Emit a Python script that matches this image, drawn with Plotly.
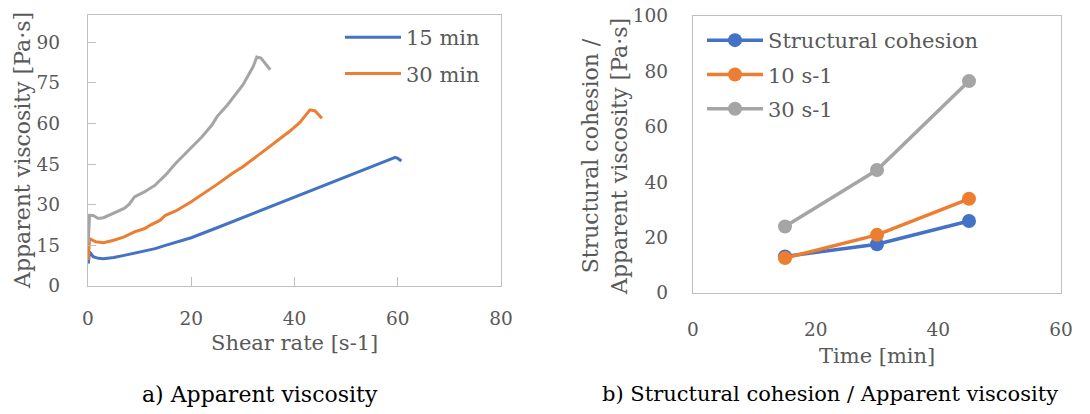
import plotly.graph_objects as go

# ---- Data: a) Apparent viscosity vs shear rate ----
x_15min = [0.05, 0.3, 1.0, 2, 3, 5, 7, 10, 13, 15, 18, 20, 25, 30, 35, 40, 45, 50, 55, 59.5, 60.0, 60.7]
y_15min = [8.3, 12.6, 10.8, 10.2, 10.1, 10.5, 11.3, 12.6, 13.8, 15.0, 16.6, 17.8, 21.5, 25.3, 29.0, 32.9, 36.4, 40.3, 44.0, 47.5, 47.1, 46.1]

x_30min = [0.05, 0.3, 1.5, 3, 5, 7, 9, 11, 12, 14, 15, 17, 20, 23, 25, 28, 30, 33, 36, 39, 41, 43, 44, 45.3]
y_30min = [9.5, 17.5, 16.3, 16.0, 16.9, 18.1, 20.0, 21.2, 22.4, 24.3, 26.1, 27.7, 31.1, 34.8, 37.5, 41.6, 44.0, 48.3, 52.7, 57.0, 60.3, 65.0, 64.6, 61.9]

x_45min = [0.05, 0.3, 1, 2, 3, 5, 7, 8, 9, 11, 13, 14, 15, 17, 19, 21, 22, 24, 25, 27, 28, 30, 32, 32.7, 33.5, 35.3]
y_45min = [15.8, 26.1, 26.0, 24.9, 25.2, 26.8, 28.6, 30.2, 32.9, 34.8, 37.2, 39.1, 40.9, 45.3, 49.0, 52.7, 54.9, 59.4, 62.5, 66.8, 69.3, 74.2, 81.0, 84.5, 84.1, 79.8]

left_yticks = [0, 15, 30, 45, 60, 75, 90]

# ---- Data: b) Structural cohesion / apparent viscosity vs time ----
time_min = [15, 30, 45]
structural_cohesion = [13.2, 17.6, 26.0]
visc_10 = [12.6, 21.0, 34.0]
visc_30 = [24.0, 44.4, 76.5]

BLUE = "#4472C4"
ORANGE = "#ED7D31"
GRAY = "#A5A5A5"
TXT = "#595959"
AX = "#BFBFBF"
FONT = "DejaVu Serif"

fig = go.Figure()

fig.add_trace(go.Scatter(x=x_15min, y=y_15min, mode="lines", name="15 min",
                         line=dict(color=BLUE, width=3), xaxis="x", yaxis="y",
                         legend="legend", legendgroup="a1"))
fig.add_trace(go.Scatter(x=x_30min, y=y_30min, mode="lines", name="30 min",
                         line=dict(color=ORANGE, width=3), xaxis="x", yaxis="y",
                         legend="legend", legendgroup="a2"))
fig.add_trace(go.Scatter(x=x_45min, y=y_45min, mode="lines", name="45 min",
                         line=dict(color=GRAY, width=3), xaxis="x", yaxis="y",
                         showlegend=False))

fig.add_trace(go.Scatter(x=time_min, y=structural_cohesion, mode="lines+markers",
                         name="Structural cohesion", line=dict(color=BLUE, width=3.5),
                         marker=dict(size=14, color=BLUE), xaxis="x2", yaxis="y2",
                         legend="legend2", legendgroup="b1"))
fig.add_trace(go.Scatter(x=time_min, y=visc_10, mode="lines+markers",
                         name="10 s-1", line=dict(color=ORANGE, width=3.5),
                         marker=dict(size=14, color=ORANGE), xaxis="x2", yaxis="y2",
                         legend="legend2", legendgroup="b2"))
fig.add_trace(go.Scatter(x=time_min, y=visc_30, mode="lines+markers",
                         name="30 s-1", line=dict(color=GRAY, width=3.5),
                         marker=dict(size=14, color=GRAY), xaxis="x2", yaxis="y2",
                         legend="legend2", legendgroup="b3"))

W, H = 1090, 414
def px(x):
    return x / W
def py(y):
    return 1 - y / H

axis_common = dict(showline=True, mirror=True, linecolor=AX, linewidth=1.3,
                   showgrid=False, zeroline=False,
                   tickfont=dict(family=FONT, size=18.5, color=TXT))

fig.update_layout(
    width=W, height=H,
    margin=dict(l=0, r=0, t=0, b=0, autoexpand=False),
    paper_bgcolor="white", plot_bgcolor="white",
    font=dict(family=FONT, color=TXT),
    xaxis=dict(domain=[px(88), px(501)], range=[0, 80], dtick=20,
               ticks="inside", ticklen=9, tickcolor=AX, ticklabelstandoff=16,
               anchor="y", **axis_common),
    yaxis=dict(domain=[py(286), py(15)], range=[0, 100], tickvals=left_yticks,
               ticks="inside", ticklen=8, tickcolor=AX, ticklabelstandoff=23,
               anchor="x", **axis_common),
    xaxis2=dict(domain=[px(693), px(1061)], range=[0, 60], dtick=20,
                ticks="", ticklabelstandoff=20, anchor="y2", **axis_common),
    yaxis2=dict(domain=[py(293), py(16)], range=[0, 100], dtick=20,
                ticks="", ticklabelstandoff=20, anchor="x2", **axis_common),
    legend=dict(x=px(340), y=py(17), xanchor="left", yanchor="top",
                bgcolor="rgba(0,0,0,0)", itemwidth=56, traceorder="grouped",
                tracegroupgap=6, font=dict(family=FONT, size=21, color=TXT)),
    legend2=dict(x=px(702), y=py(20), xanchor="left", yanchor="top",
                 bgcolor="rgba(0,0,0,0)", itemwidth=56, traceorder="grouped",
                 tracegroupgap=4, font=dict(family=FONT, size=21, color=TXT)),
    showlegend=True,
)

ann_font = dict(family=FONT, size=22, color=TXT)
def ann(text, x, y, font, angle=0):
    fig.add_annotation(text=text, x=px(x), y=py(y), xref="paper", yref="paper",
                       xanchor="center", yanchor="middle", textangle=angle,
                       showarrow=False, font=font)

ann("Apparent viscosity [Pa·s]", 22, 151, ann_font, -90)
ann("Structural cohesion /<br>Apparent viscosity [Pa·s]", 605, 157, ann_font, -90)
ann("Shear rate [s-1]", 294.5, 343, dict(family=FONT, size=21, color=TXT))
ann("Time [min]", 877, 356, dict(family=FONT, size=21, color=TXT))
ann("a) Apparent viscosity", 260, 394, dict(family=FONT, size=22, color="black"))
ann("b) Structural cohesion / Apparent viscosity", 830, 394, dict(family=FONT, size=21, color="black"))

fig.write_html("out.html", config={"displayModeBar": False},
               post_script="document.body.style.margin='0px';")
